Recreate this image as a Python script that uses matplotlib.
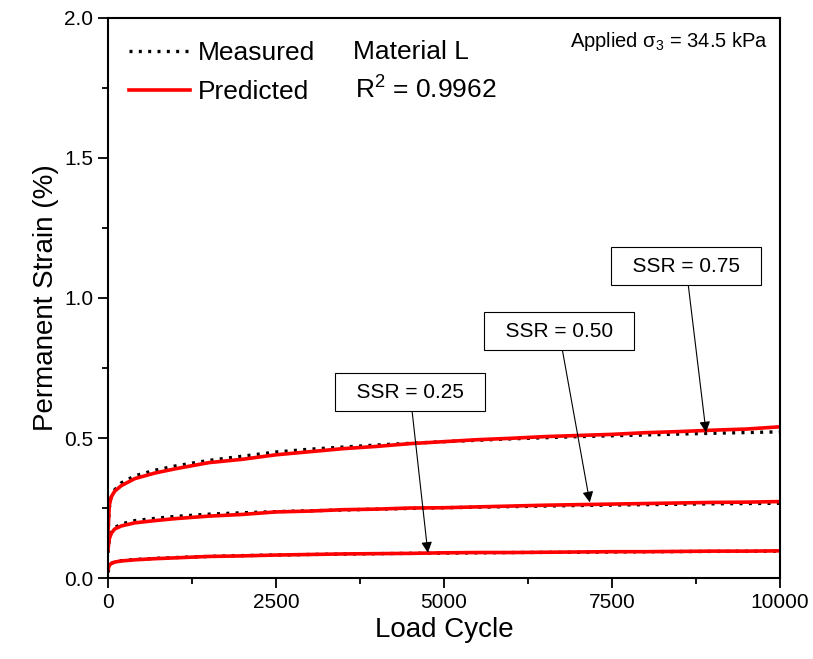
import matplotlib
matplotlib.use('Agg')
import matplotlib.pyplot as plt
from matplotlib.ticker import MultipleLocator

plt.rcParams['font.family'] = ['Liberation Sans', 'DejaVu Sans']
plt.rcParams['mathtext.fontset'] = 'custom'
plt.rcParams['mathtext.rm'] = 'Liberation Sans'
plt.rcParams['mathtext.it'] = 'Liberation Sans:italic'

# measured curves (dotted)
cycles_meas = [0, 20, 50, 100, 200, 400, 700, 1000, 1500, 2000, 2500,
               3000, 4000, 5000, 6000, 7000, 8000, 9000, 10000]
meas_075 = [0.15, 0.25, 0.29, 0.315, 0.34, 0.365, 0.385, 0.40, 0.42, 0.435,
            0.45, 0.46, 0.475, 0.487, 0.497, 0.505, 0.511, 0.517, 0.522]
meas_050 = [0.09, 0.14, 0.165, 0.18, 0.193, 0.205, 0.213, 0.22, 0.228, 0.233,
            0.237, 0.24, 0.246, 0.251, 0.255, 0.259, 0.262, 0.265, 0.267]
meas_025 = [0.02, 0.04, 0.052, 0.058, 0.062, 0.066, 0.07, 0.073, 0.077, 0.08,
            0.082, 0.084, 0.087, 0.089, 0.091, 0.092, 0.094, 0.095, 0.096]

# predicted curves (red)
cycles_pred = [0, 20, 50, 100, 200, 400, 700, 1000, 1500, 2000, 2500, 3000,
               3500, 4000, 4500, 5000, 5500, 6000, 6500, 7000, 7500, 8000,
               8500, 9000, 9500, 10000]
pred_075 = [0.16, 0.26, 0.29, 0.31, 0.33, 0.355, 0.375, 0.39, 0.412, 0.424,
            0.44, 0.451, 0.462, 0.47, 0.48, 0.487, 0.494, 0.499, 0.505, 0.509,
            0.513, 0.519, 0.523, 0.528, 0.532, 0.54]
pred_050 = [0.10, 0.14, 0.16, 0.175, 0.186, 0.197, 0.205, 0.212, 0.221, 0.227,
            0.236, 0.239, 0.244, 0.246, 0.25, 0.251, 0.254, 0.257, 0.26, 0.262,
            0.264, 0.266, 0.268, 0.27, 0.271, 0.273]
pred_025 = [0.03, 0.045, 0.052, 0.057, 0.061, 0.065, 0.069, 0.072, 0.077,
            0.079, 0.082, 0.084, 0.086, 0.087, 0.088, 0.090, 0.091, 0.091,
            0.092, 0.093, 0.094, 0.094, 0.095, 0.096, 0.096, 0.097]

ssr_labels = ['SSR = 0.25', 'SSR = 0.50', 'SSR = 0.75']
arrow_tips = [(4760, 0.09), (7170, 0.27), (8900, 0.52)]
box_centers = [(4494, 0.664), (6711, 0.882), (8601, 1.114)]

fig = plt.figure(figsize=(8.13, 6.59), dpi=100)
ax = fig.add_axes([0.1328, 0.1229, 0.8266, 0.8498])

dot_style = dict(color='black', lw=2.4, linestyle=(0, (0.9, 1.9)))
red_style = dict(color='red', lw=2.6)

ax.plot(cycles_meas, meas_075, label='Measured', **dot_style)
ax.plot(cycles_meas, meas_050, **dot_style)
ax.plot(cycles_meas, meas_025, **dot_style)
ax.plot(cycles_pred, pred_075, label='Predicted', **red_style)
ax.plot(cycles_pred, pred_050, **red_style)
ax.plot(cycles_pred, pred_025, **red_style)

for txt, tip, ctr in zip(ssr_labels, arrow_tips, box_centers):
    ax.annotate('  ' + txt + '  ', xy=tip, xytext=ctr, fontsize=15,
                ha='center', va='center',
                bbox=dict(boxstyle='square,pad=0.45', fc='white',
                          ec='black', lw=0.8),
                arrowprops=dict(arrowstyle='-|>', color='black', lw=0.8,
                                mutation_scale=16, shrinkA=0, shrinkB=0))

ax.set_xlim(0, 10000)
ax.set_ylim(0, 2.0)
ax.xaxis.set_major_locator(MultipleLocator(2500))
ax.xaxis.set_minor_locator(MultipleLocator(1250))
ax.yaxis.set_major_locator(MultipleLocator(0.5))
ax.yaxis.set_minor_locator(MultipleLocator(0.25))
ax.tick_params(which='major', length=7, width=1.3, labelsize=15)
ax.tick_params(which='minor', length=4, width=1.3)
ax.yaxis.set_major_formatter(plt.FormatStrFormatter('%.1f'))
for s in ax.spines.values():
    s.set_linewidth(1.5)

ax.set_xlabel('Load Cycle', fontsize=20)
ax.set_ylabel('Permanent Strain (%)', fontsize=20)

ax.legend(loc='upper left', frameon=False, fontsize=19, handlelength=2.3,
          handletextpad=0.3, labelspacing=0.55, borderaxespad=0.4,
          bbox_to_anchor=(0.0, 0.996))
ax.text(0.365, 0.939, 'Material L', transform=ax.transAxes, fontsize=19,
        va='center')
ax.text(0.368, 0.871, r'R$^2$ = 0.9962', transform=ax.transAxes,
        fontsize=19, va='center')
ax.text(0.983, 0.958, r'Applied σ$_{\mathit{3}}$ = 34.5 kPa',
        transform=ax.transAxes, fontsize=14.5, ha='right', va='center')

fig.savefig('out.png', dpi=100)
